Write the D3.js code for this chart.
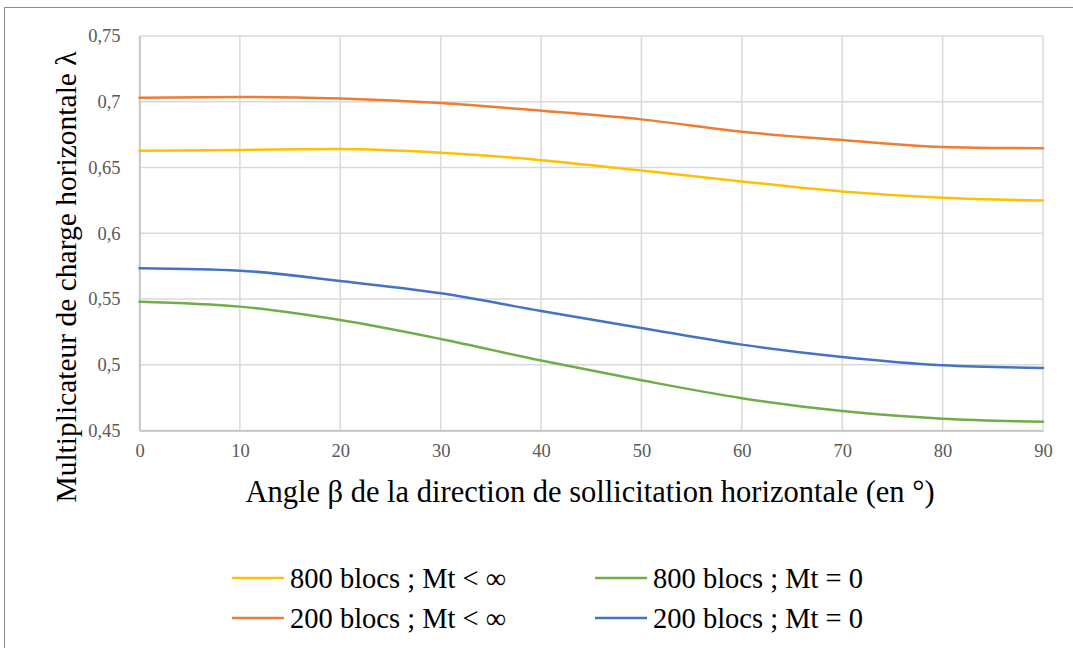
<!DOCTYPE html>
<html><head><meta charset="utf-8">
<script src="https://cdn.jsdelivr.net/npm/d3@7"></script>
<style>body{margin:0;background:#fff}svg{display:block}svg text{font-family:"Liberation Serif","DejaVu Serif","Noto Serif",serif !important}</style>
</head><body><svg id="c" width="1073" height="648"></svg>
<script>
const angles = [0, 10, 20, 30, 40, 50, 60, 70, 80, 90];
const s800Inf = [0.6627, 0.6634, 0.6640, 0.6612, 0.6556, 0.6477, 0.6394, 0.6318, 0.6270, 0.6249];
const s200Inf = [0.7030, 0.7037, 0.7024, 0.6990, 0.6932, 0.6866, 0.6772, 0.6709, 0.6656, 0.6646];
const s800Zero = [0.5480, 0.5442, 0.5340, 0.5196, 0.5032, 0.4882, 0.4746, 0.4648, 0.4590, 0.4567];
const s200Zero = [0.5733, 0.5715, 0.5637, 0.5543, 0.5409, 0.5280, 0.5153, 0.5059, 0.4996, 0.4976];
const seriesNames = ["800 blocs ; Mt < ∞", "200 blocs ; Mt < ∞", "800 blocs ; Mt = 0", "200 blocs ; Mt = 0"];
const seriesColors = ["#FFC000", "#ED7D31", "#70AD47", "#4472C4"];
const xTicks = [0, 10, 20, 30, 40, 50, 60, 70, 80, 90];
const yTicks = [0.45, 0.5, 0.55, 0.6, 0.65, 0.7, 0.75];
const xTitle = "Angle β de la direction de sollicitation horizontale (en °)";
const yTitle = "Multiplicateur de charge horizontale λ";

const seriesValues = [s800Inf, s200Inf, s800Zero, s200Zero];
const svg = d3.select("#c");
svg.append("rect").attr("x",4.5).attr("y",7.5).attr("width",1200).attr("height",800)
  .attr("fill","#fff").attr("stroke","#8c8c8c").attr("stroke-width",1);

const L=139.5, R=1043, T=36, B=430.5;
const x = d3.scaleLinear().domain([0,90]).range([L,R]);
const y = d3.scaleLinear().domain([0.45,0.75]).range([B,T]);
const fmt = v => String(v).replace(".", ",");
const serif = "Liberation Serif";

// gridlines
svg.append("g").selectAll("line.h").data(yTicks).join("line")
  .attr("x1",L).attr("x2",R).attr("y1",d=>y(d)).attr("y2",d=>y(d))
  .attr("stroke","#d9d9d9").attr("stroke-width",1.5);
svg.append("g").selectAll("line.v").data(xTicks).join("line")
  .attr("x1",d=>x(d)).attr("x2",d=>x(d)).attr("y1",T).attr("y2",B)
  .attr("stroke","#d9d9d9").attr("stroke-width",1.5);

// axes
const yAxis = svg.append("g").attr("transform",`translate(${L},0)`)
  .call(d3.axisLeft(y).tickValues(yTicks).tickFormat(fmt).tickSize(0).tickPadding(19));
yAxis.attr("font-family",serif).attr("font-size",18.5);
yAxis.select(".domain").attr("stroke","#bfbfbf").attr("stroke-width",1.5);
yAxis.selectAll("text").attr("fill","#595959");
const xAxis = svg.append("g").attr("transform",`translate(0,${B})`)
  .call(d3.axisBottom(x).tickValues(xTicks).tickFormat(d=>d).tickSize(0).tickPadding(13));
xAxis.attr("font-family",serif).attr("font-size",18.5);
xAxis.select(".domain").attr("stroke","#bfbfbf").attr("stroke-width",1.5);
xAxis.selectAll("text").attr("fill","#595959");

// lines
const line = d3.line().x((d,i)=>x(angles[i])).y(d=>y(d)).curve(d3.curveMonotoneX);
seriesValues.forEach((vals,k)=>{
  svg.append("path").datum(vals).attr("d",line).attr("fill","none")
    .attr("stroke",seriesColors[k]).attr("stroke-width",2.5).attr("stroke-linecap","round");
});

// titles
svg.append("text").attr("x",590).attr("y",502).attr("text-anchor","middle")
  .attr("font-family",serif).attr("font-size",30.5).attr("fill","#000").text(xTitle);
svg.append("text").attr("transform","translate(76,277) rotate(-90)").attr("text-anchor","middle")
  .attr("font-family",serif).attr("font-size",29.5).attr("fill","#000").text(yTitle);

// legend
const legPos = [[232,578],[232,618],[595,578],[595,618]];
seriesNames.forEach((name,k)=>{
  const [lx,ly] = legPos[k];
  const g = svg.append("g").attr("transform",`translate(${lx},${ly})`);
  g.append("line").attr("x1",0).attr("x2",52).attr("y1",0).attr("y2",0)
    .attr("stroke",seriesColors[k]).attr("stroke-width",2.5);
  g.append("text").attr("x",58).attr("y",9.5).attr("font-family",serif).attr("font-size",28.5)
    .attr("fill","#000").text(name);
});
</script></body></html>
